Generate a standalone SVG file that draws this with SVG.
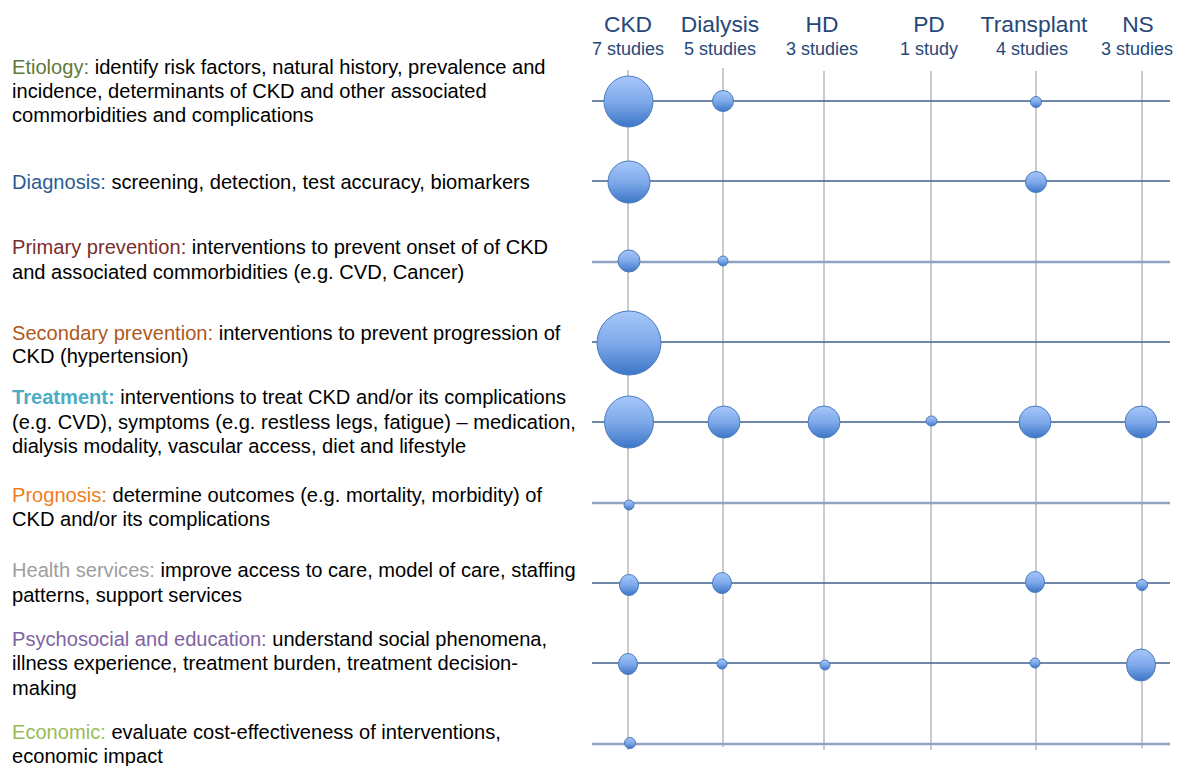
<svg xmlns="http://www.w3.org/2000/svg" width="1178" height="766" viewBox="0 0 1178 766">
<defs>
<linearGradient id="bub" x1="0" y1="0" x2="0" y2="1">
<stop offset="0" stop-color="#A6C7FA"/>
<stop offset="0.5" stop-color="#7FA9EA"/>
<stop offset="1" stop-color="#3C76C6"/>
</linearGradient>
<style>
.vl{stroke:#BDBDBD;stroke-width:1.6;fill:none}
.hd{stroke:#3F5F8C;stroke-width:1.4;fill:none}
.hl{stroke:#8EA4C2;stroke-width:2.4;fill:none}
.b{fill:url(#bub);stroke:#4A7CBD;stroke-width:1}
.t{font-family:"Liberation Sans",Arial,sans-serif;font-size:20.1px;fill:#000}
.col{font-family:"Liberation Sans",Arial,sans-serif;font-size:22.8px;fill:#264878;text-anchor:middle}
.sub{font-family:"Liberation Sans",Arial,sans-serif;font-size:18px;fill:#264878;text-anchor:middle}
</style>
</defs>
<rect width="1178" height="766" fill="#fff"/>
<g id="connectors">
<line class="vl" x1="628" y1="70" x2="628" y2="750"/>
<line class="vl" x1="723" y1="68" x2="723" y2="747"/>
<line class="vl" x1="824" y1="71" x2="824" y2="750"/>
<line class="vl" x1="931" y1="71" x2="931" y2="750"/>
<line class="vl" x1="1036" y1="71" x2="1036" y2="750"/>
<line class="vl" x1="1142" y1="71" x2="1142" y2="748"/>
<line class="hd" x1="592" y1="101" x2="1170" y2="101"/>
<line class="hd" x1="592" y1="181" x2="1170" y2="181"/>
<line class="hl" x1="592" y1="262" x2="1170" y2="262"/>
<line class="hd" x1="592" y1="342" x2="1170" y2="342"/>
<line class="hd" x1="592" y1="422" x2="1170" y2="422"/>
<line class="hl" x1="592" y1="503" x2="1170" y2="503"/>
<line class="hd" x1="592" y1="583" x2="1170" y2="583"/>
<line class="hd" x1="592" y1="663" x2="1170" y2="663"/>
<line class="hl" x1="592" y1="744" x2="1170" y2="744"/>
</g>
<g id="headers">
<g id="h-ckd"><text class="col" x="628" y="32">CKD</text><text class="sub" x="628" y="55">7 studies</text></g>
<g id="h-dialysis"><text class="col" x="720" y="32">Dialysis</text><text class="sub" x="720" y="55">5 studies</text></g>
<g id="h-hd"><text class="col" x="822" y="32">HD</text><text class="sub" x="822" y="55">3 studies</text></g>
<g id="h-pd"><text class="col" x="929" y="32">PD</text><text class="sub" x="929" y="55">1 study</text></g>
<g id="h-transplant"><text class="col" x="1034" y="32">Transplant</text><text class="sub" x="1032" y="55">4 studies</text></g>
<g id="h-ns"><text class="col" x="1138" y="32">NS</text><text class="sub" x="1137" y="55">3 studies</text></g>
</g>
<g id="rows">
<g id="r-etiology"><text class="t" x="12" y="74"><tspan fill="#5F7A3A">Etiology:</tspan> identify risk factors, natural history, prevalence and</text><text class="t" x="12" y="98">incidence,  determinants of CKD and other associated</text><text class="t" x="12" y="122">commorbidities and complications</text></g>
<g id="r-diagnosis"><text class="t" x="12" y="189"><tspan fill="#2D5B92">Diagnosis:</tspan> screening, detection, test accuracy, biomarkers</text></g>
<g id="r-primary"><text class="t" x="12" y="254"><tspan fill="#7A2E2E">Primary prevention:</tspan>  interventions to prevent onset of of CKD</text><text class="t" x="12" y="279">and associated commorbidities (e.g. CVD, Cancer)</text></g>
<g id="r-secondary"><text class="t" x="12" y="340"><tspan fill="#B0581D">Secondary prevention:</tspan>  interventions to prevent progression of</text><text class="t" x="12" y="363">CKD (hypertension)</text></g>
<g id="r-treatment"><text class="t" x="12" y="404"><tspan fill="#4BACC6" font-weight="bold">Treatment:</tspan> interventions to treat CKD and/or its complications</text><text class="t" x="12" y="429">(e.g. CVD), symptoms (e.g. restless legs, fatigue) – medication,</text><text class="t" x="12" y="453">dialysis modality, vascular access, diet and lifestyle</text></g>
<g id="r-prognosis"><text class="t" x="12" y="502"><tspan fill="#F07D22">Prognosis:</tspan> determine outcomes (e.g. mortality, morbidity) of</text><text class="t" x="12" y="526">CKD and/or its complications</text></g>
<g id="r-health"><text class="t" x="12" y="577"><tspan fill="#9E9E9E">Health services:</tspan> improve access to care, model of care, staffing</text><text class="t" x="12" y="602">patterns, support services</text></g>
<g id="r-psych"><text class="t" x="12" y="646"><tspan fill="#8064A2">Psychosocial and education:</tspan> understand social phenomena,</text><text class="t" x="12" y="670">illness experience, treatment burden, treatment decision-</text><text class="t" x="12" y="695">making</text></g>
<g id="r-economic"><text class="t" x="12" y="739"><tspan fill="#9BBB59">Economic:</tspan> evaluate cost-effectiveness of interventions,</text><text class="t" x="12" y="763">economic impact</text></g>
</g>
<g id="bubbles">
<ellipse id="b-eti-ckd" class="b" cx="628.5" cy="101.5" rx="24.5" ry="25.5"/>
<circle id="b-eti-dia" class="b" cx="723" cy="101" r="10.5"/>
<circle id="b-eti-tx" class="b" cx="1036" cy="102" r="5.5"/>
<circle id="b-dia-ckd" class="b" cx="629" cy="182" r="21"/>
<circle id="b-dia-tx" class="b" cx="1036" cy="182" r="10.5"/>
<circle id="b-pri-ckd" class="b" cx="629" cy="261" r="11"/>
<circle id="b-pri-dia" class="b" cx="723" cy="261" r="5"/>
<circle id="b-sec-ckd" class="b" cx="629" cy="343" r="32"/>
<ellipse id="b-tr-ckd" class="b" cx="629" cy="422" rx="24.5" ry="26"/>
<circle id="b-tr-dia" class="b" cx="724" cy="422" r="16"/>
<circle id="b-tr-hd" class="b" cx="824" cy="422" r="16"/>
<ellipse id="b-tr-pd" class="b" cx="931.5" cy="421" rx="5.5" ry="5"/>
<circle id="b-tr-tx" class="b" cx="1035" cy="422" r="16"/>
<circle id="b-tr-ns" class="b" cx="1141" cy="422" r="16"/>
<circle id="b-pro-ckd" class="b" cx="629" cy="505" r="5"/>
<ellipse id="b-hs-ckd" class="b" cx="629" cy="585" rx="9.5" ry="10.5"/>
<ellipse id="b-hs-dia" class="b" cx="722" cy="583" rx="9.5" ry="10.5"/>
<ellipse id="b-hs-tx" class="b" cx="1035" cy="582" rx="9.5" ry="10.5"/>
<circle id="b-hs-ns" class="b" cx="1142" cy="585" r="5.5"/>
<ellipse id="b-ps-ckd" class="b" cx="628" cy="664" rx="9.5" ry="10.5"/>
<circle id="b-ps-dia" class="b" cx="722" cy="664" r="5"/>
<circle id="b-ps-hd" class="b" cx="825" cy="665" r="5"/>
<circle id="b-ps-tx" class="b" cx="1035" cy="663" r="5"/>
<ellipse id="b-ps-ns" class="b" cx="1141" cy="665" rx="14.5" ry="16"/>
<circle id="b-eco-ckd" class="b" cx="630" cy="743" r="5.5"/>
</g>
</svg>
